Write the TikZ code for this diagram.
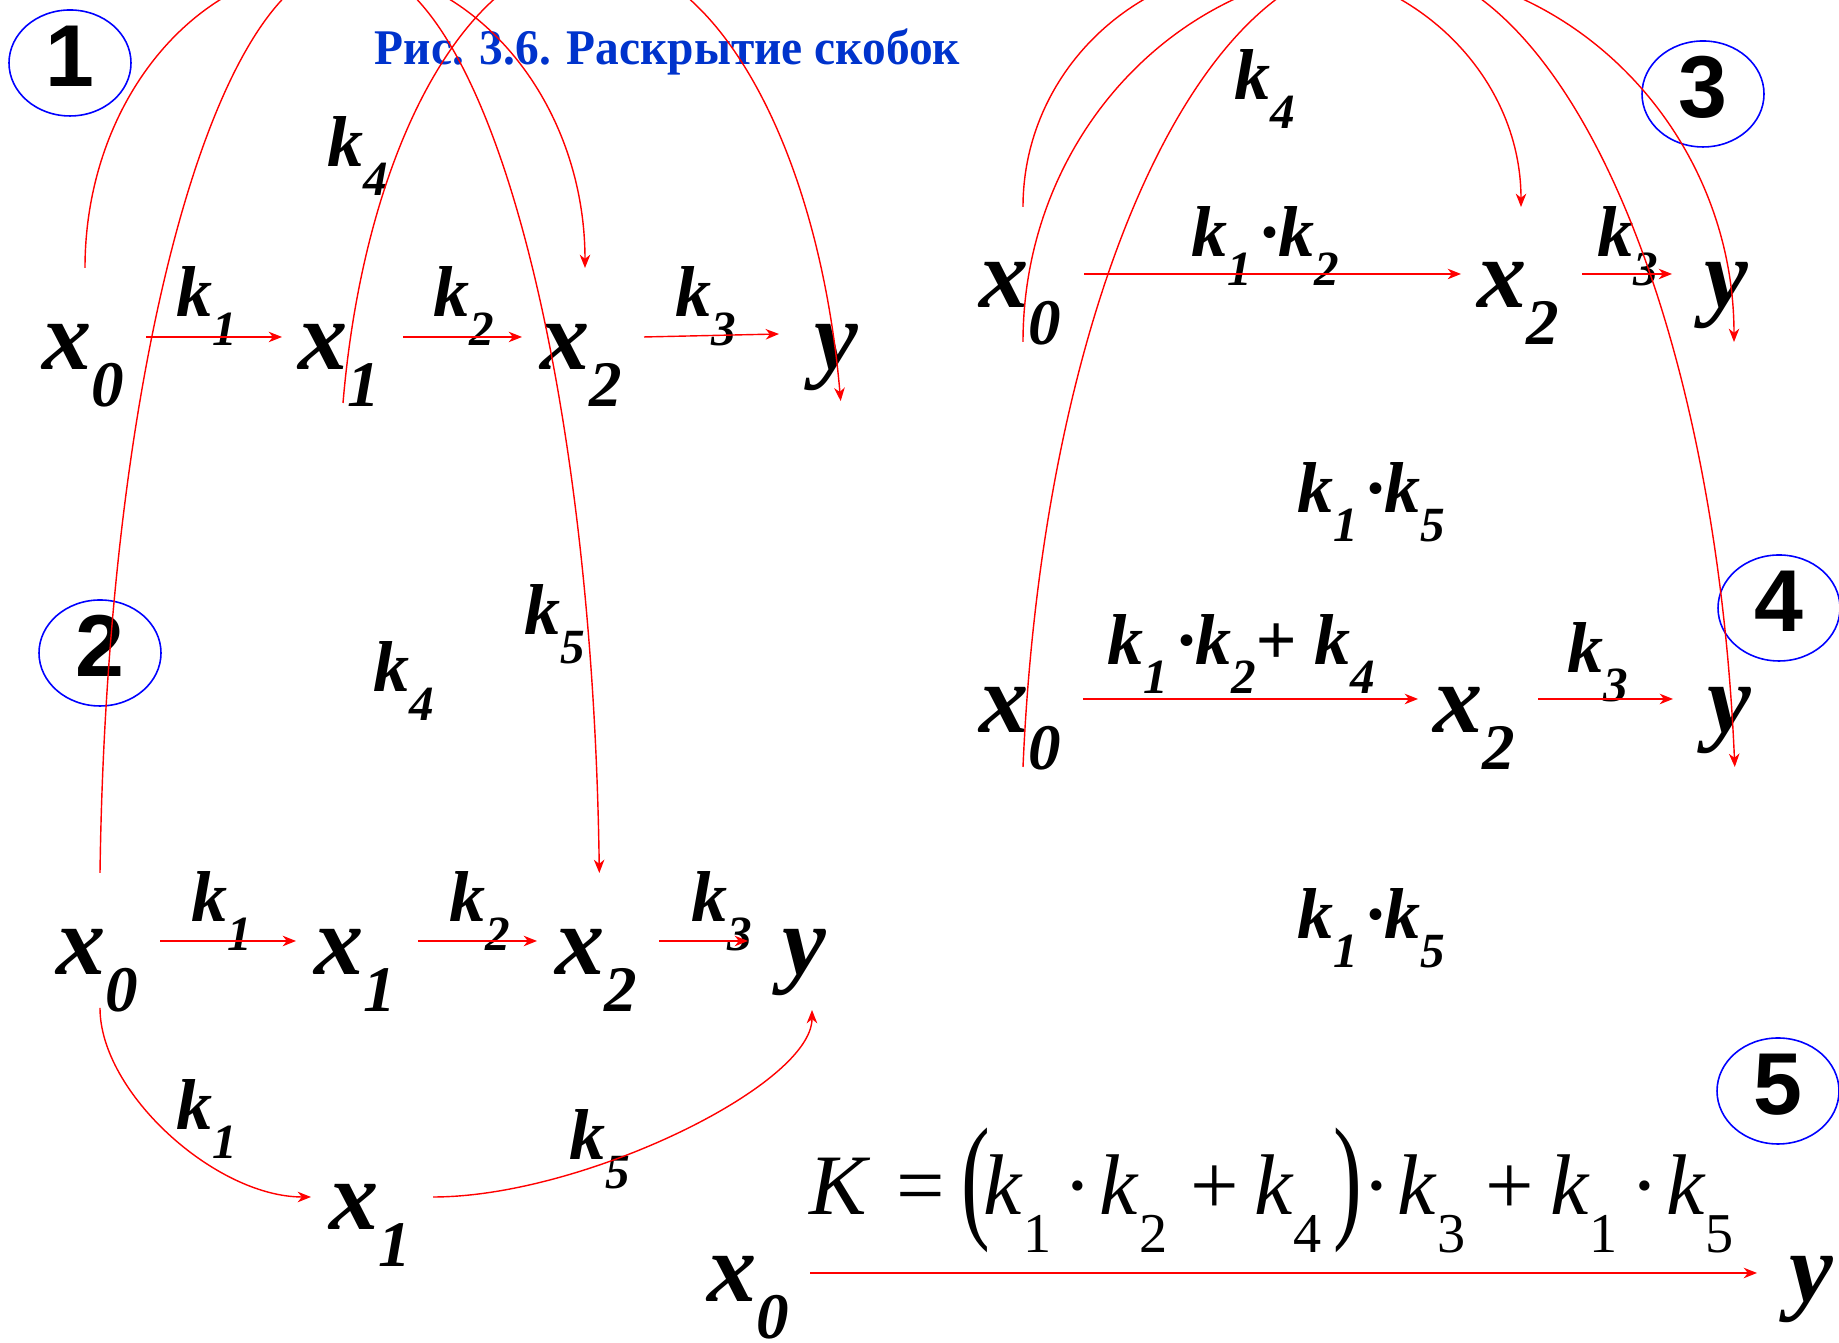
\documentclass[tikz,border=0pt]{standalone}
\usepackage{fontspec}
\setmainfont{Liberation Serif}
\newfontfamily\numfont{Liberation Sans}
\usepackage{graphicx}
\usepackage{xcolor}
\definecolor{lnred}{RGB}{255,0,0}
\definecolor{lnblue}{RGB}{0,0,255}
\definecolor{ttlblue}{RGB}{0,51,204}
\usetikzlibrary{arrows.meta, shapes.geometric}

% variable with lowered index, gain with lowered index, formula gain
\newcommand{\nx}[2]{#1\raisebox{-10.5pt}{\fontsize{18.5}{18.5}\selectfont #2}}
\newcommand{\nk}[1]{k\raisebox{-8pt}{\fontsize{14}{14}\selectfont #1}}
\newcommand{\fk}[1]{\textit{k}\raisebox{-10.8pt}{\fontsize{16}{16}\selectfont #1}}
\newcommand{\tallpar}[1]{\raisebox{-2.3pt}{\scalebox{1}[1.6]{#1}}}

\tikzset{
  var/.style={font=\fontsize{28}{28}\selectfont\bfseries\itshape, inner sep=0pt, anchor=base west},
  gain/.style={font=\fontsize{20.5}{20.5}\selectfont\bfseries\itshape, inner sep=0pt, anchor=base west},
  flow/.style={lnred, line width=0.4pt, -{Stealth[length=3.8pt, width=3pt, inset=1.2pt]}},
  badge/.style={draw=lnblue, line width=0.45pt, ellipse, minimum width=1.22cm, minimum height=1.06cm,
    inner sep=0pt, text height=0.55cm, text depth=0.08cm, font=\numfont\bfseries\fontsize{25}{25}\selectfont},
}

\begin{document}
\begin{tikzpicture}
  \useasboundingbox (0,0) rectangle (18.39,13.43);
  \clip (0,0) rectangle (18.39,13.43);

  % Title
  \node[font=\fontsize{14.2}{14.2}\selectfont\bfseries, text=ttlblue, inner sep=0pt, anchor=base] (ttl) at (6.675,12.78) {\scalebox{0.95}[1]{Рис. 3.6. Раскрытие скобок}};

  % Step badges
  \node[badge] (b1) at (0.70,12.80) {1};
  \node[badge] (b2) at (1.00,6.90) {2};
  \node[badge] (b3) at (17.03,12.49) {3};
  \node[badge] (b4) at (17.79,7.35) {4};
  \node[badge] (b5) at (17.78,2.52) {5};

  % --- Panel 1: full chain ---
  \node[var] (x0a) at (0.42,9.73) {\nx{x}{0}};
  \node[var] (x1a) at (2.98,9.73) {\nx{x}{1}};
  \node[var] (x2a) at (5.40,9.73) {\nx{x}{2}};
  \node[var] (ya) at (8.14,9.73) {y};
  \node[gain] (k1a) at (1.76,10.26) {\nk{1}};
  \node[gain] (k2a) at (4.33,10.26) {\nk{2}};
  \node[gain] (k3a) at (6.75,10.26) {\nk{3}};
  \node[gain] (k4a) at (3.27,11.76) {\nk{4}};
  \draw[flow] ([shift={(1.04,0.33)}]x0a.base west) -- ([shift={(-0.16,0.33)}]x1a.base west);
  \draw[flow] ([shift={(1.05,0.33)}]x1a.base west) -- ([shift={(-0.18,0.33)}]x2a.base west);
  \draw[flow] ([shift={(1.04,0.33)}]x2a.base west) -- ([shift={(-0.35,0.36)}]ya.base west);
  % bypass arcs
  \coordinate (p1a) at ([shift={(0.43,1.02)}]x0a.base west);
  \draw[flow] (p1a) arc[start angle=180, end angle=0, x radius=2.5, y radius=3.02];
  \coordinate (p1b) at ([shift={(0.45,-0.33)}]x1a.base west);
  \draw[flow] (p1b) arc[start angle=169.7, end angle=10.5, x radius=2.53, y radius=5.43];

  % --- Panel 2: split at x1 ---
  \node[var] (x0b) at (0.56,3.68) {\nx{x}{0}};
  \node[var] (x1b) at (3.14,3.68) {\nx{x}{1}};
  \node[var] (x2b) at (5.55,3.68) {\nx{x}{2}};
  \node[var] (yb) at (7.82,3.68) {y};
  \node[gain] (k1b) at (1.91,4.21) {\nk{1}};
  \node[gain] (k2b) at (4.49,4.21) {\nk{2}};
  \node[gain] (k3b) at (6.91,4.21) {\nk{3}};
  \node[gain] (k4b) at (3.73,6.51) {\nk{4}};
  \node[gain] (k5b) at (5.24,7.08) {\nk{5}};
  \draw[flow] ([shift={(1.04,0.34)}]x0b.base west) -- ([shift={(-0.18,0.34)}]x1b.base west);
  \draw[flow] ([shift={(1.04,0.34)}]x1b.base west) -- ([shift={(-0.18,0.34)}]x2b.base west);
  \draw[flow] ([shift={(1.04,0.34)}]x2b.base west) -- ([shift={(-0.34,0.34)}]yb.base west);
  \coordinate (p2a) at ([shift={(0.44,1.02)}]x0b.base west);
  \draw[flow] (p2a) arc[start angle=177, end angle=3, x radius=2.5, y radius=9.59];
  % lower branch through a second x1
  \node[var] (x1c) at (3.29,1.13) {\nx{x}{1}};
  \node[gain] (k1c) at (1.76,2.13) {\nk{1}};
  \node[gain] (k5c) at (5.69,1.83) {\nk{5}};
  \draw[flow] ([shift={(0.44,-0.33)}]x0b.base west) .. controls +(0,-0.85) and +(-0.95,0) .. ([shift={(-0.18,0.33)}]x1c.base west);
  \draw[flow] ([shift={(1.04,0.33)}]x1c.base west) .. controls +(1.5,0) and +(0,-0.75) .. ([shift={(0.30,-0.35)}]yb.base west);

  % --- Panel 3: x1 removed ---
  \node[var] (x0c) at (9.79,10.35) {\nx{x}{0}};
  \node[var] (x2c) at (14.77,10.35) {\nx{x}{2}};
  \node[var] (yc) at (17.04,10.35) {y};
  \node[gain] (k12c) at (11.91,10.86) {\nk{1}\hspace{2.3pt}·\nk{2}};
  \node[gain] (k3c) at (15.97,10.86) {\nk{3}};
  \node[gain] (k4c) at (12.34,12.43) {\nk{4}};
  \draw[flow] ([shift={(1.05,0.34)}]x0c.base west) -- ([shift={(-0.16,0.34)}]x2c.base west);
  \draw[flow] ([shift={(1.05,0.34)}]x2c.base west) -- ([shift={(-0.32,0.34)}]yc.base west);
  \coordinate (p3a) at ([shift={(0.44,1.01)}]x0c.base west);
  \draw[flow] (p3a) arc[start angle=180, end angle=0, x radius=2.49, y radius=2.42];
  \coordinate (p3b) at ([shift={(0.44,-0.34)}]x0c.base west);
  \draw[flow] (p3b) arc[start angle=180, end angle=0, x radius=3.555, y radius=3.75];

  % --- Panel 4: parallel gains joined ---
  \node[gain] (k15d) at (12.97,8.30) {\nk{1}\hspace{2.3pt}·\nk{5}};
  \node[var] (x0d) at (9.79,6.10) {\nx{x}{0}};
  \node[var] (x2d) at (14.33,6.10) {\nx{x}{2}};
  \node[var] (yd) at (17.07,6.10) {y};
  \node[gain] (k124d) at (11.07,6.78) {\nk{1}\hspace{2.5pt}·\nk{2}+\hspace{5pt}\nk{4}};
  \node[gain] (k3d) at (15.67,6.70) {\nk{3}};
  \draw[flow] ([shift={(1.04,0.34)}]x0d.base west) -- ([shift={(-0.15,0.34)}]x2d.base west);
  \draw[flow] ([shift={(1.05,0.34)}]x2d.base west) -- ([shift={(-0.34,0.34)}]yd.base west);
  \coordinate (p4a) at ([shift={(0.44,-0.34)}]x0d.base west);
  \draw[flow] (p4a) arc[start angle=173.8, end angle=6.2, x radius=3.58, y radius=9.03];
  \node[gain] (k15e) at (12.97,4.04) {\nk{1}\hspace{2.3pt}·\nk{5}};

  % --- Panel 5: result ---
  \node[var] (x0e) at (7.07,0.41) {\nx{x}{0}};
  \node[var] (ye) at (17.89,0.41) {y};
  \node[font=\fontsize{24.5}{24.5}\selectfont, inner sep=0pt, anchor=base west] (kf) at (8.09,1.28) {\textit{K}\hspace{7.3pt}=\hspace{4.8pt}\tallpar{(}\hspace{-2pt}\fk{1}\hspace{3.4pt}·\hspace{2.3pt}\fk{2}\hspace{6.6pt}+\hspace{4.3pt}\fk{4}\hspace{3.3pt}\tallpar{)}·\hspace{2pt}\fk{3}\hspace{5.8pt}+\hspace{4.5pt}\fk{1}\hspace{3.6pt}·\hspace{2pt}\fk{5}};
  \draw[flow] ([shift={(1.03,0.29)}]x0e.base west) -- ([shift={(-0.32,0.29)}]ye.base west);
\end{tikzpicture}
\end{document}
